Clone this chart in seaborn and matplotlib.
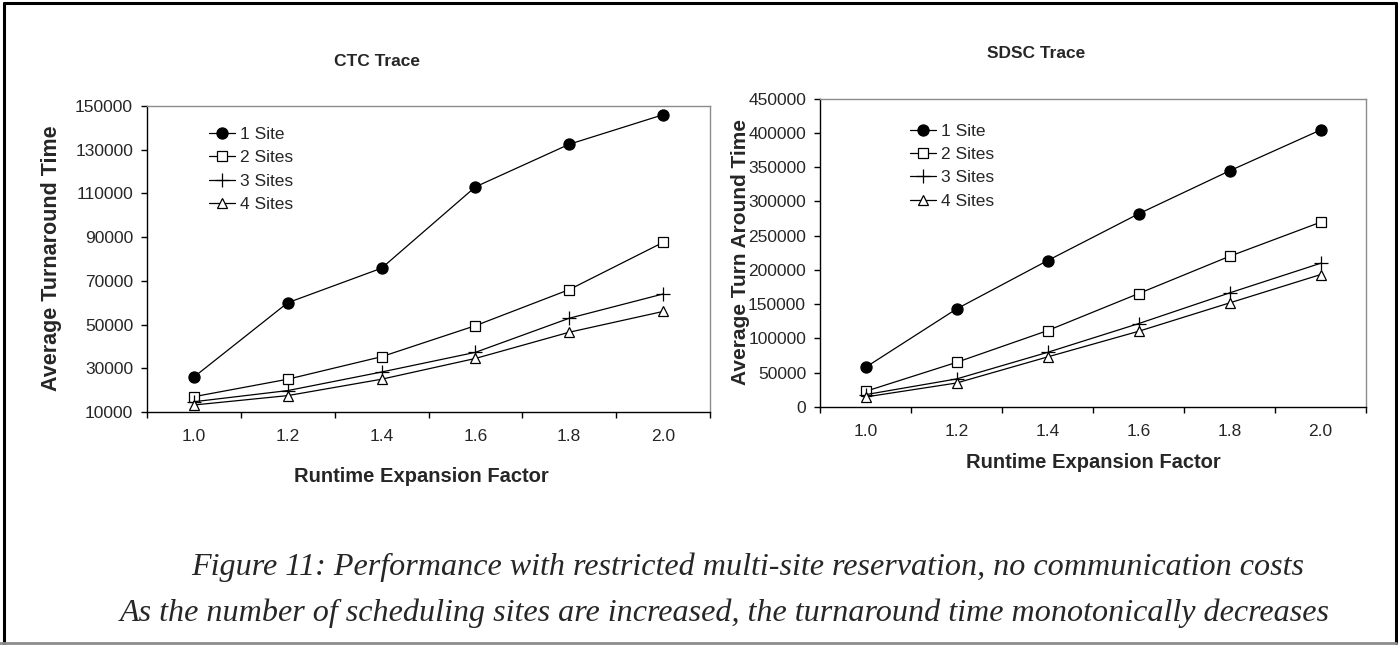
import matplotlib
matplotlib.use("Agg")
import matplotlib.pyplot as plt
import seaborn as sns
from matplotlib.lines import Line2D

# ---------------- data ----------------
factors = ["1.0", "1.2", "1.4", "1.6", "1.8", "2.0"]
series = ["1 Site", "2 Sites", "3 Sites", "4 Sites"]

ctc_1 = [26000, 60000, 75800, 113000, 132500, 146000]
ctc_2 = [17000, 25000, 35300, 49500, 66000, 87600]
ctc_3 = [14700, 19800, 28300, 37300, 52900, 64000]
ctc_4 = [13200, 17500, 25000, 34500, 46500, 56000]

sdsc_1 = [57800, 143000, 213500, 281700, 344400, 404000]
sdsc_2 = [22800, 65100, 111400, 165400, 219800, 269500]
sdsc_3 = [18000, 40900, 79700, 121600, 166400, 209600]
sdsc_4 = [14600, 35000, 73000, 110400, 151800, 193100]

ctc_yticks = [10000, 30000, 50000, 70000, 90000, 110000, 130000, 150000]
sdsc_yticks = [0, 50000, 100000, 150000, 200000, 250000, 300000, 350000, 400000, 450000]

titles = ["CTC Trace", "SDSC Trace"]
ylabels = ["Average Turnaround Time", "Average Turn Around Time"]
xlabel = "Runtime Expansion Factor"
caption1 = "Figure 11: Performance with restricted multi-site reservation, no communication costs"
caption2 = "As the number of scheduling sites are increased, the turnaround time monotonically decreases"

# ---------------- style ----------------
sns.set_style("white")
plt.rcParams["font.family"] = ["Liberation Sans", "DejaVu Sans"]

W, H = 1398, 645
fig = plt.figure(figsize=(W / 100, H / 100), dpi=100)
fig.patch.set_facecolor("white")

markers = ["o", "s", "+", "^"]
faces = ["black", "white", "none", "white"]
msizes = [8, 7.5, 9.5, 7.5]
GRAY = "#8c8c8c"


def px_box(x0, y0, x1, y1):
    return [x0 / W, 1 - y1 / H, (x1 - x0) / W, (y1 - y0) / H]


def draw_panel(ax, data, yticks, legend_anchor):
    for name, vals, m, fc, ms in zip(series, data, markers, faces, msizes):
        sns.lineplot(x=factors, y=vals, ax=ax, color="black", linewidth=0.9,
                     marker=m, markersize=ms, markerfacecolor=fc,
                     markeredgecolor="black", markeredgewidth=0.9,
                     label=name, sort=False)
    ax.set_xlim(-0.5, len(factors) - 0.5)
    ax.set_ylim(yticks[0], yticks[-1])
    ax.set_xticks(list(range(len(factors))))
    ax.set_xticklabels(factors)
    ax.set_xticks([i - 0.5 for i in range(len(factors) + 1)], minor=True)
    ax.set_yticks(yticks)
    ax.set_yticklabels([str(v) for v in yticks])
    ax.tick_params(axis="x", which="major", length=0, pad=12, labelsize=12.5)
    ax.tick_params(axis="x", which="minor", length=4.5, width=1.0,
                   direction="out", color="black", bottom=True)
    ax.tick_params(axis="y", which="major", length=4, width=1.0,
                   direction="out", color="black", pad=6, labelsize=12.5, left=True)
    for side in ["left", "bottom"]:
        ax.spines[side].set_color("black")
        ax.spines[side].set_linewidth(1.0)
    for side in ["top", "right"]:
        ax.spines[side].set_color(GRAY)
        ax.spines[side].set_linewidth(1.0)
    ax.set_xlabel("")
    ax.set_ylabel("")
    ax.grid(False)
    leg = ax.legend(loc="upper left", bbox_to_anchor=legend_anchor,
                    frameon=False, fontsize=12.5, handlelength=1.5,
                    handletextpad=0.3, labelspacing=0.47, borderpad=0,
                    borderaxespad=0)
    return leg


ax1 = fig.add_axes(px_box(147, 106, 710, 412))
draw_panel(ax1, [ctc_1, ctc_2, ctc_3, ctc_4], ctc_yticks, (0.11, 0.932))

ax2 = fig.add_axes(px_box(820, 98.5, 1366, 407))
draw_panel(ax2, [sdsc_1, sdsc_2, sdsc_3, sdsc_4], sdsc_yticks, (0.165, 0.919))

# titles and axis labels
fig.text(377 / W, 1 - 61 / H, titles[0], ha="center", va="center",
         fontsize=12.5, fontweight="bold")
fig.text(1036 / W, 1 - 54 / H, titles[1], ha="center", va="center",
         fontsize=12.5, fontweight="bold")
fig.text(52 / W, 1 - 258 / H, ylabels[0], ha="center", va="center",
         rotation=90, fontsize=15.5, fontweight="bold")
fig.text(740 / W, 1 - 252 / H, ylabels[1], ha="center", va="center",
         rotation=90, fontsize=15, fontweight="bold")
fig.text(421 / W, 1 - 476 / H, xlabel, ha="center", va="center",
         fontsize=14.5, fontweight="bold")
fig.text(1093 / W, 1 - 462 / H, xlabel, ha="center", va="center",
         fontsize=14.5, fontweight="bold")

# caption
cap_font = ["Liberation Serif", "DejaVu Serif"]
t1 = fig.text(191 / W, 1 - 575 / H, caption1, ha="left", va="baseline",
              fontsize=20, style="italic", family=cap_font)
t2 = fig.text(120 / W, 1 - 621 / H, caption2, ha="left", va="baseline",
              fontsize=20, style="italic", family=cap_font)
fig.canvas.draw()
r = fig.canvas.get_renderer()
w2 = t2.get_window_extent(r).width
fs = 20 * 1209 / w2
t1.set_fontsize(fs)
t2.set_fontsize(fs)

# figure border
fig.add_artist(Line2D([4 / W, 4 / W], [0, 1 - 2.5 / H], color="black", lw=2.2))
fig.add_artist(Line2D([4 / W, 1396 / W], [1 - 2.5 / H, 1 - 2.5 / H], color="black", lw=2.2))
fig.add_artist(Line2D([1396 / W, 1396 / W], [1 - 2.5 / H, 1 - 642.5 / H], color="black", lw=2.2))
fig.add_artist(Line2D([0, 1396 / W], [1 - 642.5 / H, 1 - 642.5 / H], color=GRAY, lw=2))

fig.savefig("out.png", dpi=100, facecolor="white")
